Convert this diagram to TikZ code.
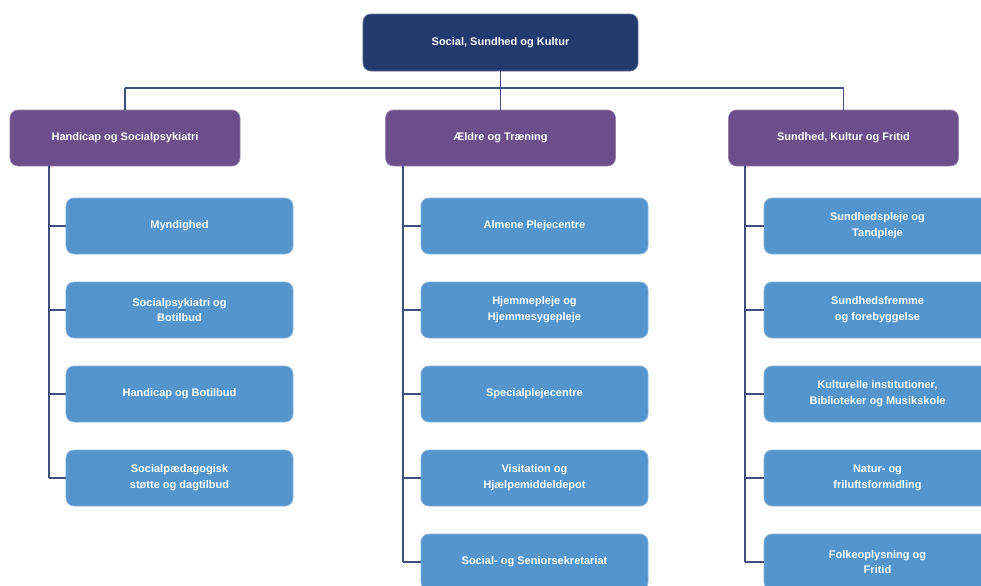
\documentclass[tikz,border=0pt]{standalone}
\usepackage{fontspec}
\setmainfont{Liberation Sans}
\usetikzlibrary{positioning, calc}

\definecolor{topblue}{HTML}{233A6E}
\definecolor{deptpurple}{HTML}{6C4E8B}
\definecolor{unitblue}{HTML}{5495CD}
\definecolor{linkblue}{HTML}{3F4F7D}

\tikzset{
	orgbox/.style={rounded corners=0.24cm, text=white, align=center,
		font=\bfseries\fontsize{9.4}{13.5}\selectfont, inner sep=2pt},
	topbox/.style={orgbox, fill=topblue, draw=topblue!70!white, line width=0.6pt,
		minimum width=8.25cm, minimum height=1.71cm},
	deptbox/.style={orgbox, fill=deptpurple, draw=deptpurple!70!white, line width=0.6pt,
		minimum width=6.9cm, minimum height=1.68cm},
	unitbox/.style={orgbox, fill=unitblue, draw=unitblue!70!white, line width=0.6pt,
		minimum width=6.81cm, minimum height=1.68cm},
	link/.style={draw=linkblue, line width=1.1pt}
}

\begin{document}
\begin{tikzpicture}[x=0.03cm, y=-0.03cm]
			\clip (0,0) rectangle (981,585);
			\fill[white] (0,0) rectangle (981,585);
			
			% top and departments
			\node [topbox] (top) at (500.5, 42.5) {Social, Sundhed og Kultur};
			\node [deptbox] (hs) at (125, 138) {Handicap og Socialpsykiatri};
			\node [deptbox] (ae) at (500.5, 138) {Ældre og Træning};
			\node [deptbox] (sk) at (843.5, 138) {Sundhed, Kultur og Fritid};
			
			% units
			\foreach \i/\txt in {1/Myndighed, 2/{Socialpsykiatri og\\Botilbud},
				3/Handicap og Botilbud, 4/{Socialpædagogisk\\støtte og dagtilbud}}
			\node [unitbox] (hs-\i) at (179.5, 142+84*\i) {\txt};
			
			\foreach \i/\txt in {1/Almene Plejecentre, 2/{Hjemmepleje og\\Hjemmesygepleje},
				3/Specialplejecentre, 4/{Visitation og\\Hjælpemiddeldepot},
				5/Social- og Seniorsekretariat}
			\node [unitbox] (ae-\i) at (534.5, 142+84*\i) {\txt};
			
			\foreach \i/\txt in {1/{Sundhedspleje og\\Tandpleje}, 2/{Sundhedsfremme\\og forebyggelse},
				3/{Kulturelle institutioner,\\Biblioteker og Musikskole}, 4/{Natur- og\\friluftsformidling},
				5/{Folkeoplysning og\\Fritid}}
			\node [unitbox] (sk-\i) at (877.5, 142+84*\i) {\txt};
			
			% connectors
			\coordinate (bar) at (0, 88);
			\draw [link] (top.south) -- (top.south |- bar);
			\draw [link] (hs.north |- bar) -- (sk.north |- bar);
			\foreach \d in {hs, ae, sk}
			\draw [link] (\d.north |- bar) -- (\d.north);
			
			\coordinate (hs-trunk) at (49, 166);
			\coordinate (ae-trunk) at (403, 166);
			\coordinate (sk-trunk) at (745, 166);
			\draw [link] (hs-trunk) -- (hs-trunk |- hs-4.west);
			\draw [link] (ae-trunk) -- (ae-trunk |- ae-5.west);
			\draw [link] (sk-trunk) -- (sk-trunk |- sk-5.west);
			
			\foreach \i in {1,2,3,4}
			\draw [link] (hs-trunk |- hs-\i.west) -- (hs-\i.west);
			\foreach \i in {1,2,3,4,5}
			{
				\draw [link] (ae-trunk |- ae-\i.west) -- (ae-\i.west);
				\draw [link] (sk-trunk |- sk-\i.west) -- (sk-\i.west);
			}
\end{tikzpicture}
\end{document}
